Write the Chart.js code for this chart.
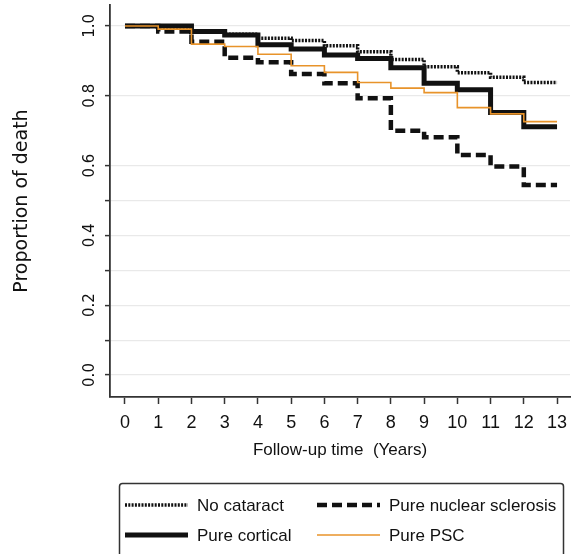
<!DOCTYPE html>
<html><head><meta charset="utf-8">
<script src="https://cdn.jsdelivr.net/npm/chart.js@4.4.1/dist/chart.umd.min.js"></script>
<style>html,body{margin:0;padding:0;background:#fff;}</style>
</head><body>
<canvas id="c" width="571" height="554"></canvas>
<script>
// ---- data (Kaplan-Meier style step values, value holds from each year to the next) ----
const years = [0,1,2,3,4,5,6,7,8,9,10,11,12,13];
const noCataract   = [1.000,0.995,0.986,0.976,0.965,0.958,0.943,0.926,0.904,0.883,0.866,0.853,0.838,0.838];
const pureNuclear  = [1.000,0.984,0.955,0.909,0.896,0.862,0.836,0.793,0.700,0.681,0.630,0.597,0.544,0.544];
const pureCortical = [1.000,1.000,0.984,0.974,0.946,0.934,0.917,0.907,0.880,0.836,0.817,0.752,0.711,0.711];
const purePSC      = [1.000,0.991,0.948,0.941,0.919,0.886,0.867,0.838,0.822,0.809,0.766,0.748,0.726,0.726];
const seriesNames  = ['No cataract','Pure nuclear sclerosis','Pure cortical','Pure PSC'];
const xTickValues  = [0,1,2,3,4,5,6,7,8,9,10,11,12,13];
const yTickValues  = [0,0.1,0.2,0.3,0.4,0.5,0.6,0.8,1.0];
const yTickLabels  = ['0.0','','0.2','','0.4','','0.6','0.8','1.0'];
const xTitle = 'Follow-up time  (Years)';
const yTitle = 'Proportion of death';

const SANS = "'Liberation Sans',Arial,sans-serif";
const toPts = arr => years.map((t,i)=>({x:t,y:arr[i]}));

const styles = [
  {data: noCataract,   color:'#111', width:3.5, dash:[2,1.3], order:3},
  {data: pureNuclear,  color:'#111', width:4.5, dash:[10,5],  order:1},
  {data: pureCortical, color:'#111', width:5,   dash:[],      order:2},
  {data: purePSC,      color:'#e8932a', width:1.6, dash:[],   order:0},
];

const legendPlugin = {
  id:'boxLegend',
  afterDraw(chart){
    const ctx = chart.ctx;
    ctx.save();
    ctx.strokeStyle = '#333'; ctx.lineWidth = 1.5;
    ctx.beginPath();
    if (ctx.roundRect) ctx.roundRect(119.5, 483.5, 444, 80, 3); else ctx.rect(119.5,483.5,444,80);
    ctx.stroke();
    const pos = [[125,505],[317,505],[125,535],[317,535]];
    [0,1,2,3].forEach((di,k)=>{
      const ds = chart.data.datasets[di];
      const [x,y] = pos[k];
      ctx.beginPath();
      ctx.strokeStyle = ds.borderColor; ctx.lineWidth = ds.borderWidth;
      ctx.setLineDash(ds.borderDash||[]);
      ctx.moveTo(x, y); ctx.lineTo(x+63, y); ctx.stroke();
      ctx.setLineDash([]);
      ctx.fillStyle = '#111';
      ctx.font = "17px " + SANS;
      ctx.textBaseline = 'middle'; ctx.textAlign = 'left';
      ctx.fillText(ds.label, x+72, y+1);
    });
    ctx.restore();
  }
};

new Chart(document.getElementById('c'), {
  type:'line',
  data:{
    datasets: styles.map((s,i)=>({
      label: seriesNames[i], data: toPts(s.data), borderColor:s.color, backgroundColor:s.color,
      borderWidth:s.width, borderDash:s.dash, stepped:true, pointRadius:0, fill:false,
      borderCapStyle:'butt', borderJoinStyle:'miter', order:s.order
    }))
  },
  options:{
    responsive:false, animation:false, devicePixelRatio:1,
    layout:{padding:{left:0,right:1,top:5,bottom:87}},
    plugins:{legend:{display:false}, tooltip:{enabled:false}},
    scales:{
      x:{
        type:'linear', min:-0.451, max:13.39,
        afterBuildTicks: sc => { sc.ticks = xTickValues.map(v=>({value:v})); },
        afterFit: sc => { sc.height = 70; sc.paddingLeft = 0; sc.paddingRight = 0; },
        grid:{drawOnChartArea:false, tickLength:7, tickColor:'#333', tickWidth:1.5},
        border:{display:true, color:'#333', width:1.8},
        ticks:{autoSkip:false, maxRotation:0, padding:8, color:'#111',
               font:{family:SANS, size:18}, callback: v => String(v)},
        title:{display:true, text:xTitle, color:'#111', font:{family:SANS, size:17}, padding:{top:0,bottom:6}}
      },
      y:{
        type:'linear', min:-0.063, max:1.06,
        afterBuildTicks: sc => { sc.ticks = yTickValues.map(v=>({value:v})); },
        afterFit: sc => { sc.width = 110; sc.paddingTop = 0; sc.paddingBottom = 0; },
        grid:{color:'#e9e9e9', lineWidth:1.2, tickLength:5, tickColor:'#333', tickWidth:1.5},
        border:{display:true, color:'#333', width:1.8},
        ticks:{autoSkip:false, minRotation:90, maxRotation:90, crossAlign:'center', padding:3, color:'#111',
               font:{family:"'DejaVu Sans',sans-serif", size:15},
               callback: (v) => { const i = yTickValues.findIndex(t=>Math.abs(t-v)<1e-9); return i>=0 ? yTickLabels[i] : ''; }},
        title:{display:true, text:yTitle, color:'#111', font:{family:"'DejaVu Sans',sans-serif", size:19}, padding:{top:11,bottom:0}}
      }
    }
  },
  plugins:[legendPlugin]
});
</script>
</body></html>
